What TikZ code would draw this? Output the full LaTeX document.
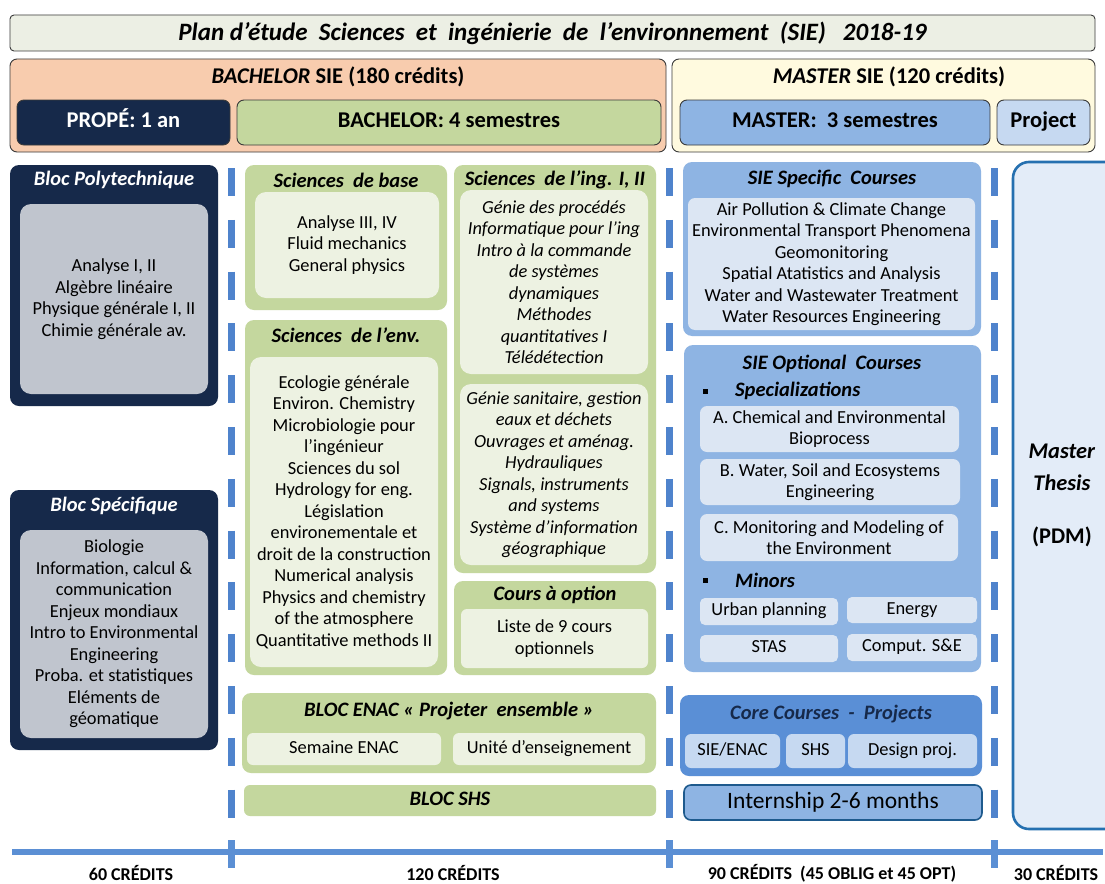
\documentclass[tikz,border=0pt]{standalone}
\usepackage{fontspec}
\setmainfont{Carlito}
\usetikzlibrary{fit,positioning}
\definecolor{navyblk}{HTML}{16294A}
\definecolor{greybox}{HTML}{C0C5CE}
\definecolor{greenout}{HTML}{C4D79E}
\definecolor{greenin}{HTML}{EDF2E2}
\definecolor{peach}{HTML}{F8CCAE}
\definecolor{paleyellow}{HTML}{FFFADF}
\definecolor{titlebg}{HTML}{ECEFE4}
\definecolor{blueout}{HTML}{8EB4E3}
\definecolor{bluein}{HTML}{DCE6F3}
\definecolor{bluecore}{HTML}{5A8FD6}
\definecolor{bluelight}{HTML}{C6D9F1}
\definecolor{thesisbg}{HTML}{E3ECF8}
\definecolor{thesisline}{HTML}{2570B0}
\definecolor{dashblue}{HTML}{4F83CC}
\definecolor{axisblue}{HTML}{5B8FD4}
\definecolor{boxline}{HTML}{3A3A3A}
\tikzset{
  frame/.style={draw=boxline, line width=0.9pt, rounded corners=7pt, inner sep=0pt},
  bloc/.style={rounded corners=9pt, inner sep=0pt},
  inbox/.style={rounded corners=11pt, inner sep=0pt},
  txt/.style={align=center, inner sep=0pt, font=\fontsize{18.4}{21.5}\selectfont},
  itxt/.style={txt, font=\fontsize{18.4}{21.5}\selectfont\itshape},
  ligne/.style={txt, text height=12.5pt, text depth=4pt},
  hdr/.style={inner sep=0pt, text height=15.5pt, text depth=5pt,
    font=\fontsize{22.5}{26}\selectfont\bfseries},
  blocname/.style={inner sep=0pt, font=\fontsize{20.5}{24}\selectfont\bfseries\itshape},
  credits/.style={font=\fontsize{18}{20}\selectfont\bfseries},
  sep/.style={dashblue, line width=7pt, dash pattern=on 28pt off 23.8pt},
  axis/.style={axisblue, line width=6pt},
  puce/.style={fill=black, inner sep=0pt, minimum size=5pt}
}
\begin{document}
\begin{tikzpicture}[x=1pt,y=-1pt]
\useasboundingbox (0,0) rectangle (1105,883);
\clip (0,0) rectangle (1105,883);
\fill[white] (0,0) rectangle (1105,883);

% en-tete
\node[frame, rounded corners=4pt, fill=titlebg, fit={(10,15) (1095,51)}] (titre) {};
\node[inner sep=0pt, font=\fontsize{25}{28}\selectfont\bfseries\itshape] (titretxt) at (titre.center)
  {Plan d'étude \ Sciences \ et \ ingénierie \ de \ l'environnement \ (SIE) \ \ 2018-19};
\node[frame, fill=peach, fit={(10,59) (666,152)}] (bach) {};
\node[hdr] (bachtxt) at (338,78) {\textit{BACHELOR} SIE (180 crédits)};
\node[frame, fill=navyblk, fit={(17,100) (230,145)}] (prope) {};
\node[hdr, text=white] (propetxt) at (prope.center) {PROPÉ: 1 an};
\node[frame, fill=greenout, fit={(237,100) (661,145)}] (bsem) {};
\node[hdr] (bsemtxt) at (bsem.center) {BACHELOR: 4 semestres};
\node[frame, fill=paleyellow, fit={(672,59) (1095,152)}] (mast) {};
\node[hdr] (masttxt) at (889,78) {\textit{MASTER} SIE (120 crédits)};
\node[frame, fill=blueout, fit={(680,100) (990,145)}] (msem) {};
\node[hdr] (msemtxt) at (msem.center) {MASTER: \ 3 semestres};
\node[frame, fill=bluelight, fit={(997,100) (1090,145)}] (proj) {};
\node[hdr] (projtxt) at (proj.center) {Project};

% separateurs et axe des credits
\foreach \x in {231,669,994} {\draw[sep] (\x,168) -- (\x,822);}
\draw[axis] (12,852) -- (1103,852);
\foreach \x in {231,669,994} {\draw[axisblue, line width=7pt] (\x,840) -- (\x,868);}
\node[credits] (c60) at (131,873) {60 CRÉDITS};
\node[credits] (c120) at (453,873) {120 CRÉDITS};
\node[credits] (c90) at (832,873) {90 CRÉDITS \ (45 OBLIG et 45 OPT)};
\node[credits] (c30) at (1056,873) {30 CRÉDITS};

% propedeutique
\node[bloc, fill=navyblk, fit={(10,165) (218,406)}] (poly) {};
\node[blocname, text=white] (polytxt) at (114,180) {Bloc Polytechnique};
\node[inbox, fill=greybox, fit={(20,204) (208,394)}] (polyin) {};
\node[txt] at (polyin.center)
  {Analyse I, II\\Algèbre linéaire\\Physique générale I, II\\Chimie générale av.};
\node[bloc, fill=navyblk, fit={(10,490) (218,750)}] (spec) {};
\node[blocname, text=white] (spectxt) at (114,506) {Bloc Spécifique};
\node[inbox, fill=greybox, fit={(20,530) (208,738)}] (specin) {};
\node[txt] at (specin.center)
  {Biologie\\Information, calcul \&\\communication\\Enjeux mondiaux\\Intro to Environmental\\Engineering\\Proba. et statistiques\\Eléments de\\géomatique};

% bachelor
\node[bloc, fill=greenout, fit={(245,165) (447,310)}] (base) {};
\node[blocname] (basetxt) at (346,180) {Sciences \ de base};
\node[inbox, fill=greenin, fit={(255,192) (439,298)}] (basein) {};
\node[txt] at (basein.center) {Analyse III, IV\\Fluid mechanics\\General physics};
\node[bloc, fill=greenout, fit={(245,320) (447,675)}] (env) {};
\node[blocname] (envtxt) at (346,335) {Sciences \ de l'env.};
\node[inbox, fill=greenin, fit={(250,357) (438,667)}] (envin) {};
\node[txt] at (envin.center)
  {Ecologie générale\\Environ. Chemistry\\Microbiologie pour\\l'ingénieur\\Sciences du sol\\Hydrology for eng.\\Législation\\environementale et\\droit de la construction\\Numerical analysis\\Physics and chemistry\\of the atmosphere\\Quantitative methods II};
\node[bloc, fill=greenout, fit={(454,165) (656,573)}] (ing) {};
\node[blocname] (ingtxt) at (555,180) {Sciences \ de l'ing. I, II};
\node[inbox, fill=greenin, fit={(460,190) (648,374)}] (ingin) {};
\node[itxt] at (ingin.center)
  {Génie des procédés\\Informatique pour l'ing\\Intro à la commande\\de systèmes\\dynamiques\\Méthodes\\quantitatives I\\Télédétection};
\node[inbox, fill=greenin, fit={(460,384) (648,565)}] (ingbis) {};
\node[itxt] at (ingbis.center)
  {Génie sanitaire, gestion\\eaux et déchets\\Ouvrages et aménag.\\Hydrauliques\\Signals, instruments\\and systems\\Système d'information\\géographique};
\node[bloc, fill=greenout, fit={(454,581) (656,675)}] (opt) {};
\node[blocname] (opttxt) at (555,595) {Cours à option};
\node[inbox, fill=greenin, rounded corners=6pt, fit={(461,609) (648,668)}] (optin) {};
\node[txt] at (optin.center) {Liste de 9 cours\\optionnels};
\node[bloc, fill=greenout, fit={(242,693) (656,773)}] (enac) {};
\node[blocname] (enactxt) at (449,711) {BLOC ENAC « Projeter \ ensemble »};
\node[inbox, fill=greenin, rounded corners=6pt, fit={(247,733) (441,765)}] (semaine) {};
\node[ligne] at (semaine.center) {Semaine ENAC};
\node[inbox, fill=greenin, rounded corners=6pt, fit={(453,733) (645,765)}] (unite) {};
\node[ligne] at (unite.center) {Unité d'enseignement};
\node[bloc, rounded corners=6pt, fill=greenout, fit={(244,785) (656,816)}] (shs) {};
\node[blocname, text height=14pt, text depth=4pt] at (shs.center) {BLOC SHS};

% master
\node[bloc, fill=blueout, fit={(683,162) (981,336)}] (sies) {};
\node[blocname] (siestxt) at (832,179) {SIE Specific \ Courses};
\node[inbox, fill=bluein, rounded corners=7pt, fit={(688,198) (975,330)}] (siesin) {};
\node[txt] at (siesin.center)
  {Air Pollution \& Climate Change\\Environmental Transport Phenomena\\Geomonitoring\\Spatial Atatistics and Analysis\\Water and Wastewater Treatment\\Water Resources Engineering};
\node[bloc, fill=blueout, fit={(684,345) (981,672)}] (sieo) {};
\node[blocname] (sieotxt) at (832,364) {SIE Optional \ Courses};
\node[puce] (puce1) at (705,391) {};
\node[blocname, anchor=west] (spe) at (735,391) {Specializations};
\node[inbox, fill=bluein, rounded corners=7pt, fit={(700,406) (959,452)}] (speA) {};
\node[txt] at (speA.center) {A. Chemical and Environmental\\Bioprocess};
\node[inbox, fill=bluein, rounded corners=7pt, fit={(700,459) (960,505)}] (speB) {};
\node[txt] at (speB.center) {B. Water, Soil and Ecosystems\\Engineering};
\node[inbox, fill=bluein, rounded corners=7pt, fit={(700,514) (958,561)}] (speC) {};
\node[txt] at (speC.center) {C. Monitoring and Modeling of\\the Environment};
\node[puce] (puce2) at (705,580) {};
\node[blocname, anchor=west] (mino) at (735,580) {Minors};
\node[inbox, fill=bluein, rounded corners=5pt, fit={(700,598) (838,625)}] (urban) {};
\node[ligne] at (urban.center) {Urban planning};
\node[inbox, fill=bluein, rounded corners=5pt, fit={(847,597) (977,623)}] (energy) {};
\node[ligne] at (energy.center) {Energy};
\node[inbox, fill=bluein, rounded corners=5pt, fit={(700,635) (838,662)}] (stas) {};
\node[ligne] at (stas.center) {STAS};
\node[inbox, fill=bluein, rounded corners=5pt, fit={(847,634) (977,661)}] (comput) {};
\node[ligne] at (comput.center) {Comput. S\&E};
\node[bloc, fill=bluecore, fit={(680,695) (982,776)}] (core) {};
\node[blocname, text=navyblk] (coretxt) at (831,714) {Core Courses \ - \ Projects};
\node[inbox, fill=bluelight, rounded corners=6pt, fit={(685,734) (780,768)}] (sieenac) {};
\node[ligne] at (sieenac.center) {SIE/ENAC};
\node[inbox, fill=bluelight, rounded corners=6pt, fit={(786,734) (845,768)}] (shsm) {};
\node[ligne] at (shsm.center) {SHS};
\node[inbox, fill=bluelight, rounded corners=6pt, fit={(848,734) (977,768)}] (design) {};
\node[ligne] at (design.center) {Design proj.};
\node[draw=thesisline!80!black, line width=1.6pt, rounded corners=7pt, inner sep=0pt,
  fill=blueout, fit={(684,785) (982,820)}] (stage) {};
\node[txt, text height=16pt, text depth=5pt, font=\fontsize{23.5}{26}\selectfont]
  at (stage.center) {Internship 2-6 months};
\node[draw=thesisline, line width=2.6pt, rounded corners=16pt, inner sep=0pt,
  fill=thesisbg, fit={(1013,162) (1130,829)}] (pdm) {};
\node[align=center, font=\fontsize{22.4}{32}\selectfont\bfseries] (pdmtxt) at (1062,495)
  {\textit{Master}\\\textit{Thesis}\\[21pt](PDM)};
\end{tikzpicture}
\end{document}
